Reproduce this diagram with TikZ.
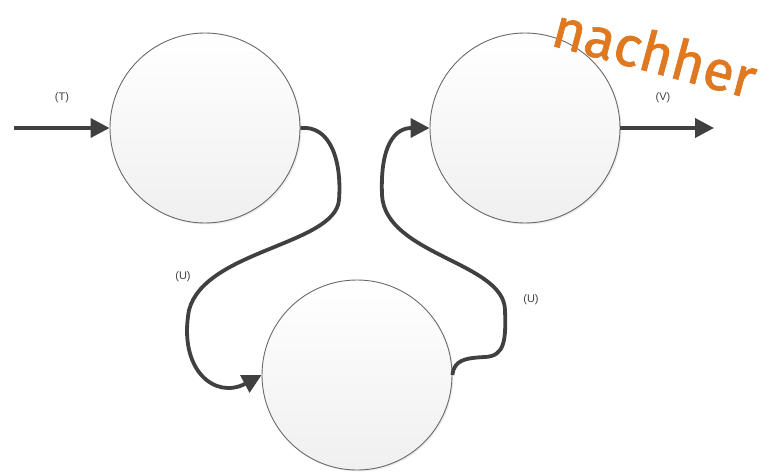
\documentclass[tikz,border=0pt]{standalone}
\usepackage{fontspec}
\setmainfont{Liberation Sans}
\newfontfamily\handfont[FakeBold=1.2]{Fira Sans}
\usetikzlibrary{arrows.meta,shadows}
\definecolor{linec}{HTML}{404040}
\definecolor{circb}{HTML}{6A6A6A}
\definecolor{orng}{HTML}{E07820}
\tikzset{
  proc/.style={circle, draw=circb, line width=0.9pt, minimum size=190pt, inner sep=0pt,
    top color=white, bottom color=black!6,
    drop shadow={shadow xshift=1.5pt, shadow yshift=-1.5pt, opacity=0.15}},
  flow/.style={draw=linec, line width=3.8pt, -{Triangle[length=19pt,width=19pt]}},
  lbl/.style={text=linec, font=\fontsize{11}{13}\selectfont}
}
\begin{document}
\begin{tikzpicture}[x=1pt,y=-1pt]
\useasboundingbox (0,0) rectangle (777,472);
\node[proc] (L) at (205,128) {};
\node[proc] (R) at (525,128) {};
\node[proc] (B) at (357,375) {};
\coordinate (tin) at (14,128);
\coordinate (vout) at (714,128);
\draw[flow] (tin) -- (L.west);
\draw[flow] (R.east) -- (vout);
\draw[flow] (L.east) .. controls (330,125) and (342,160) .. (339,200)
  .. controls (335,245) and (205,250) .. (189,310)
  .. controls (178,370) and (215,400) .. (B.west);
\draw[flow] (B.east) .. controls (454,360) and (465,358) .. (485,357)
  .. controls (505,356) and (506,340) .. (505,310)
  .. controls (504,262) and (385,255) .. (382,195)
  .. controls (380,145) and (395,128) .. (R.west);
\node[lbl] (tl) at (62,98) {(T)};
\node[lbl] (vl) at (663,98) {(V)};
\node[lbl] (ul) at (183,277) {(U)};
\node[lbl] (ur) at (531,300) {(U)};
\node[text=orng, rotate=-15, font=\handfont\fontsize{56}{60}\selectfont] (nh) at (655,52) {nachher};
\end{tikzpicture}
\end{document}
